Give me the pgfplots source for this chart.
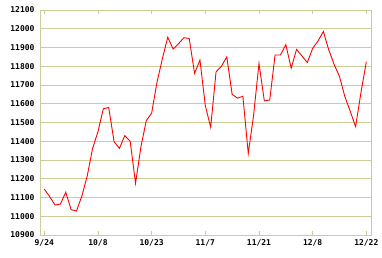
\documentclass[border=0pt]{standalone}
\usepackage{fontspec}
\usepackage{pgfplots}
\pgfplotsset{compat=1.18}
\newfontfamily\lab{DejaVu Sans Mono}
\definecolor{gridc}{RGB}{204,204,153}
\begin{document}
\begin{tikzpicture}
\begin{axis}[
  name=ax,
  scale only axis,
  width=331bp, height=225bp,
  xmin=-0.8, xmax=60.87,
  ymin=10900, ymax=12100,
  ytick={10900,11000,...,12100},
  scaled y ticks=false,
  yticklabel={\pgfmathprintnumber[fixed,precision=0,1000 sep={},assume math mode=true]{\tick}},
  xtick={0,10,20,30,40,50,60},
  xticklabels={9/24,10/8,10/23,11/7,11/21,12/8,12/22},
  ticklabel style={font=\lab\bfseries\fontsize{8bp}{9bp}\selectfont, text=black},
  yticklabel style={xshift=-2bp},
  xticklabel style={yshift=-1bp},
  ymajorgrids,
  grid style={gridc, line width=0.9bp},
  axis line style={gridc, line width=0.9bp},
  tick align=inside,
  major tick length=4bp,
  xtick style={gridc, line width=0.9bp},
  ytick style={draw=none},
  clip=true,
]
\addplot[red, line width=0.9bp] coordinates {
(0,11145) (1,11105) (2,11060) (3,11065) (4,11128) (5,11035) (6,11028) (7,11108) (8,11215) (9,11362)
(10,11451) (11,11573) (12,11580) (13,11398) (14,11362) (15,11430) (16,11400) (17,11176) (18,11370) (19,11510)
(20,11550) (21,11715) (22,11840) (23,11955) (24,11892) (25,11920) (26,11952) (27,11948) (28,11762) (29,11833)
(30,11590) (31,11475) (32,11770) (33,11800) (34,11850) (35,11650) (36,11630) (37,11640) (38,11335) (39,11540)
(40,11815) (41,11615) (42,11620) (43,11860) (44,11860) (45,11915) (46,11790) (47,11890) (48,11855) (49,11820)
(50,11895) (51,11935) (52,11985) (53,11887) (54,11810) (55,11745) (56,11638) (57,11560) (58,11478) (59,11660)
(60,11824)
};
\end{axis}
\pgfresetboundingbox
\path[use as bounding box] ([shift={(-40bp,-23bp)}]ax.south west) rectangle ([shift={(11bp,10bp)}]ax.north east);
\end{tikzpicture}
\end{document}
